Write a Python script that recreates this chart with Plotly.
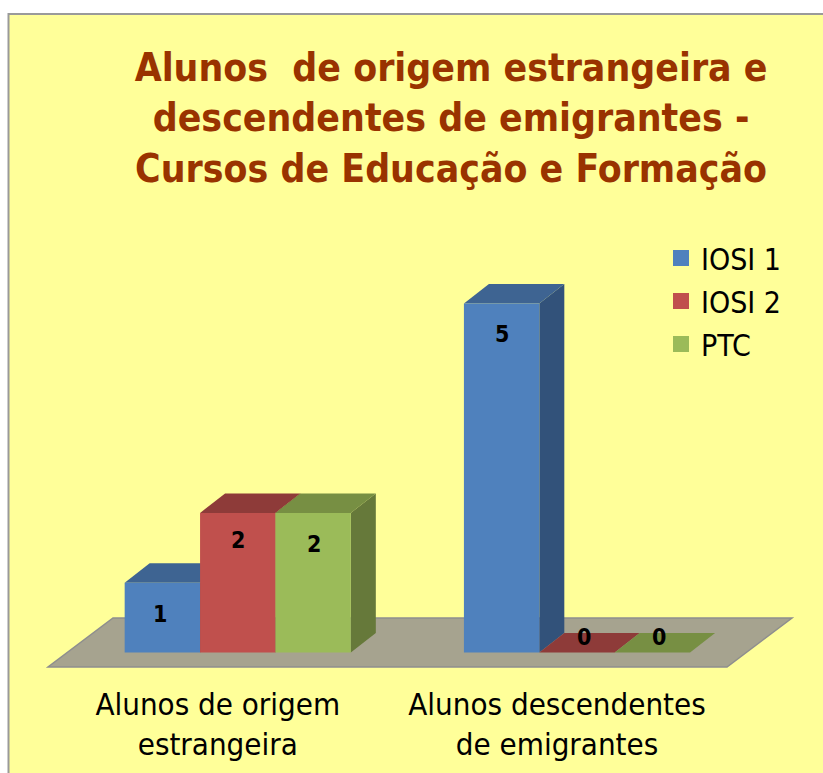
import plotly.graph_objects as go

# ---- data ----
categories = ["Alunos de origem<br>estrangeira", "Alunos descendentes<br>de emigrantes"]
series_names = ["IOSI 1", "IOSI 2", "PTC"]
iosi1 = [1, 5]
iosi2 = [2, 0]
ptc = [2, 0]
title_text = "Alunos\u00a0 de origem estrangeira e<br>descendentes de emigrantes -<br>Cursos de Educação e Formação"

# ---- style ----
front = ["#4F81BD", "#C0504D", "#9BBB59"]
top = ["#3E6492", "#8E3B39", "#778F43"]
side = ["#32527A", "#7A3230", "#66793A"]
W, H = 823, 773
ML, MR, MT, MB = 9, 1, 15, 90
PX_UNIT_X, PX_UNIT_Y = 339.25, 69.8
CX0, BASE_Y = 237.75, 652.5
DX, DY = 25 / PX_UNIT_X, 19.5 / PX_UNIT_Y
BAR_W = (2 / 3) / 3


def xd(px):
    return (px - CX0) / PX_UNIT_X


def yd(px):
    return (BASE_Y - px) / PX_UNIT_Y


def poly(points):
    return "M" + " L".join(f"{a:.4f},{b:.4f}" for a, b in points) + " Z"


shapes = [
    dict(type="rect", xref="paper", yref="paper", layer="below",
         x0=(8.5 - ML) / (W - ML - MR), x1=(840 - ML) / (W - ML - MR),
         y0=1 - (790 - MT) / (H - MT - MB), y1=1 - (14 - MT) / (H - MT - MB),
         fillcolor="#FFFF99", line=dict(color="#9A9A9A", width=2)),
    dict(type="path", xref="x", yref="y", layer="below", fillcolor="#A6A38F",
         line=dict(color="#8E8E8E", width=1.5),
         path=poly([(xd(48), yd(667)), (xd(727), yd(667)), (xd(792), yd(618)), (xd(113), yd(618))])),
]

fig = go.Figure()
all_series = [iosi1, iosi2, ptc]
xs = list(range(len(categories)))
annotations = []
label_shift = {(0, 0): (-2, -31), (0, 1): (0, -27), (0, 2): (1, -31), (1, 0): (0, -30),
               (1, 1): (7, 16), (1, 2): (7, 16)}

for s, (name, vals) in enumerate(zip(series_names, all_series)):
    fig.add_trace(go.Bar(x=xs, y=vals, name=name, marker=dict(color=front[s], line=dict(width=0)),
                         legendgroup=name, showlegend=False, hoverinfo="y+name"))
    fig.add_trace(go.Scatter(x=[None], y=[None], name=name, mode="markers", legendgroup=name,
                             marker=dict(symbol="square", size=17, color=front[s])))
    for i, v in enumerate(vals):
        left = i + (s - 1.5) * BAR_W
        right = left + BAR_W
        if v > 0:
            shapes.append(dict(type="path", xref="x", yref="y", layer="below", fillcolor=side[s],
                               line=dict(width=0),
                               path=poly([(right, 0), (right + DX, DY), (right + DX, v + DY), (right, v)])))
        shapes.append(dict(type="path", xref="x", yref="y", layer="below", fillcolor=top[s],
                           line=dict(width=0),
                           path=poly([(left, v), (right, v), (right + DX, v + DY), (left + DX, v + DY)])))
        sx, sy = label_shift[(i, s)]
        annotations.append(dict(x=(left + right) / 2, y=v, xref="x", yref="y", text=f"<b>{v}</b>",
                                showarrow=False, xshift=sx, yshift=sy,
                                font=dict(family="DejaVu Sans Condensed", size=23, color="#000000")))

fig.update_layout(
    width=W, height=H, margin=dict(l=ML, r=MR, t=MT, b=MB, autoexpand=False),
    paper_bgcolor="#FFFFFF", plot_bgcolor="rgba(0,0,0,0)",
    barmode="group", bargap=1 / 3, bargroupgap=0,
    shapes=shapes, annotations=annotations,
    title=dict(text=f"<b>{title_text}</b>", x=447.5 / W, xanchor="center", xref="paper", y=1 - 81 / H,
               yanchor="top", font=dict(family="DejaVu Sans Condensed", size=38.8, color="#993300")),
    xaxis=dict(range=[xd(ML), xd(W - MR)], tickvals=[x - 20 / PX_UNIT_X for x in xs], ticktext=categories,
               showgrid=False, zeroline=False, showline=False, ticks="", automargin=False,
               tickfont=dict(family="DejaVu Sans Condensed", size=31, color="#000000")),
    yaxis=dict(range=[yd(H - MB), yd(MT)], visible=False, fixedrange=True),
    legend=dict(x=661 / W, y=1 - 232 / H, xref="container", yref="container", xanchor="left", yanchor="top",
                bgcolor="rgba(0,0,0,0)", tracegroupgap=1, itemclick=False,
                font=dict(family="DejaVu Sans Condensed", size=30, color="#000000")),
    showlegend=True,
)
fig.write_html("out.html", config=dict(displayModeBar=False),
               post_script="document.body.style.margin='0';")
